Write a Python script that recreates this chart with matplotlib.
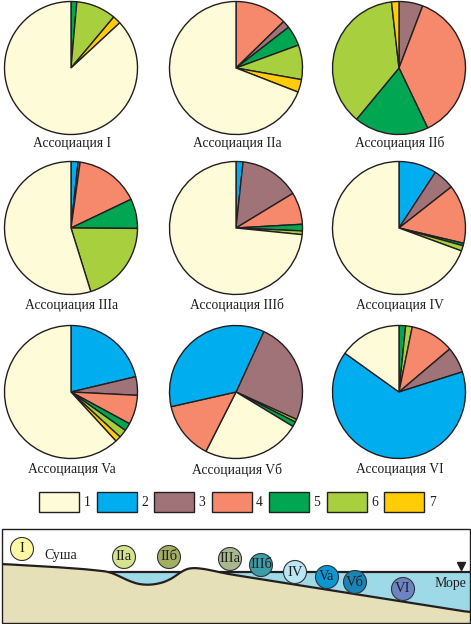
import matplotlib
matplotlib.use('Agg')
import matplotlib.pyplot as plt
from matplotlib.patches import Rectangle, Circle
import numpy as np

W, H = 471, 624
SERIF = ['Liberation Serif', 'DejaVu Serif']

# category colours (legend 1..7)
legend_labels = ['1', '2', '3', '4', '5', '6', '7']
cat_colors = {1: '#FEFBD8', 2: '#00AEEF', 3: '#A07378', 4: '#F6896C',
              5: '#00A651', 6: '#A8CF3E', 7: '#FFCC05'}

# pie data: categories in clockwise order, and their shares (%)
titles = ['Ассоциация I', 'Ассоциация IIa', 'Ассоциация IIб',
          'Ассоциация IIIa', 'Ассоциация IIIб', 'Ассоциация IV',
          'Ассоциация Va', 'Ассоциация Vб', 'Ассоциация VI']
cats_I = [5, 6, 7, 1]
vals_I = [1.4, 9.7, 2.0, 86.9]
cats_IIa = [4, 3, 5, 6, 7, 1]
vals_IIa = [12.7, 1.8, 4.9, 8.4, 3.1, 69.1]
cats_IIb = [3, 4, 5, 6, 7]
vals_IIb = [5.8, 37.1, 18.1, 37.2, 1.8]
cats_IIIa = [2, 3, 4, 5, 6, 1]
vals_IIIa = [1.7, 0.5, 15.7, 7.2, 20.1, 54.8]
cats_IIIb = [2, 3, 4, 5, 6, 1]
vals_IIIb = [1.7, 14.6, 7.8, 1.6, 0.9, 73.4]
cats_IV = [2, 3, 4, 5, 6, 1]
vals_IV = [9.2, 5.2, 14.3, 0.6, 1.3, 69.4]
cats_Va = [2, 3, 4, 5, 6, 7, 1]
vals_Va = [21.3, 4.5, 7.1, 1.9, 2.0, 1.4, 61.8]
cats_Vb = [3, 6, 5, 1, 4, 2]
vals_Vb = [24.9, 0.7, 1.2, 23.8, 14.0, 35.4]
cats_VI = [5, 6, 4, 3, 2, 1]
vals_VI = [1.6, 1.6, 10.6, 6.3, 64.8, 15.1]
start_angles = [90, 90, 90, 90, 90, 90, 90, 65.3, 90]

pie_cats = [cats_I, cats_IIa, cats_IIb, cats_IIIa, cats_IIIb, cats_IV, cats_Va, cats_Vb, cats_VI]
pie_vals = [vals_I, vals_IIa, vals_IIb, vals_IIIa, vals_IIIb, vals_IV, vals_Va, vals_Vb, vals_VI]

# schematic profile (bottom panel)
circle_labels = ['I', 'IIa', 'IIб', 'IIIa', 'IIIб', 'IV', 'Va', 'Vб', 'VI']
circle_colors = ['#FFF7A3', '#D5E38E', '#A3AE62', '#A8B88E', '#3C9DA6',
                 '#BBE6F4', '#0A96D4', '#1A84B6', '#6C84C4']
circle_x = [22, 124, 169, 230, 261, 295, 327, 355, 403]
circle_y = [549, 557, 557, 559, 565, 572, 577, 582, 589]
profile_x = [2, 50, 83, 110, 120, 133, 143, 157, 170, 178, 183, 190, 200, 210, 220, 230, 300, 400, 470]
profile_y = [564, 566.7, 569, 571.8, 576.7, 582.7, 585, 584.3, 580, 574.3, 570, 567.7, 568.3, 570, 572.3, 574.3, 585.4, 601.2, 612.2]
sea_level = 572.3

fig = plt.figure(figsize=(W / 100, H / 100), dpi=100)
ax = fig.add_axes([0, 0, 1, 1])


def Y(p):
    return H - p


pie_cx = [71, 236, 399]
pie_cy = [68, 228, 392]
label_y = [143, 305, 470]
R = 66.5
edge = '#231F20'

for i in range(9):
    r, c = divmod(i, 3)
    ax.pie(pie_vals[i], colors=[cat_colors[k] for k in pie_cats[i]],
           center=(pie_cx[c], Y(pie_cy[r])), radius=R,
           startangle=start_angles[i], counterclock=False,
           wedgeprops=dict(edgecolor=edge, linewidth=1.0))
    ax.text(pie_cx[c] + 1, Y(label_y[r]), titles[i], ha='center', va='center',
            fontsize=9.8, family=SERIF, color='#231F20')

# legend
for i, lab in enumerate(legend_labels):
    x0 = 39 + i * 57.5
    ax.add_patch(Rectangle((x0, Y(512)), 40, 20, facecolor=cat_colors[i + 1],
                           edgecolor=edge, linewidth=1.0))
    ax.text(x0 + 48, Y(502), lab, ha='center', va='center', fontsize=9.8,
            family=SERIF, color='#231F20')

# bottom panel
xd = np.linspace(2, 470, 600)
yd = np.interp(xd, profile_x, profile_y)
k = 9
pad = np.pad(yd, k, mode='edge')
yd = np.convolve(pad, np.ones(2 * k + 1) / (2 * k + 1), mode='same')[k:-k]
land = Y(yd)
lvl = Y(sea_level)
ax.fill_between(xd, Y(623), land, color='#E6E0B8', linewidth=0, zorder=2)
wet = land < lvl
ax.fill_between(xd, land, lvl, where=wet, color='#9ED9E8', linewidth=0, zorder=2)
ax.plot(xd, land, color=edge, lw=1.6, zorder=3, solid_capstyle='butt')
lvl_line = np.where(wet, lvl, np.nan)
ax.plot(xd, lvl_line, color=edge, lw=1.6, zorder=3)
ax.add_patch(Rectangle((2, Y(623)), 468, 94, facecolor='none', edgecolor=edge,
                       linewidth=1.0, zorder=4))
ax.plot([461], [Y(566)], marker='v', color=edge, markersize=6, zorder=5)

for lab, col, cx, cy in zip(circle_labels, circle_colors, circle_x, circle_y):
    ax.add_patch(Circle((cx, Y(cy)), 11.5, facecolor=col, edgecolor='#333333',
                        linewidth=0.8, zorder=6))
    ax.text(cx, Y(cy), lab, ha='center', va='center', fontsize=10.5,
            family=SERIF, color='#231F20', zorder=7)

ax.text(61, Y(555), 'Суша', ha='center', va='center', fontsize=10, family=SERIF, color='#231F20', zorder=7)
ax.text(450, Y(583), 'Море', ha='center', va='center', fontsize=10, family=SERIF, color='#231F20', zorder=7)

ax.set_xlim(0, W)
ax.set_ylim(0, H)
ax.set_aspect('auto')
ax.axis('off')
fig.savefig('out.png', dpi=100, facecolor='white')
